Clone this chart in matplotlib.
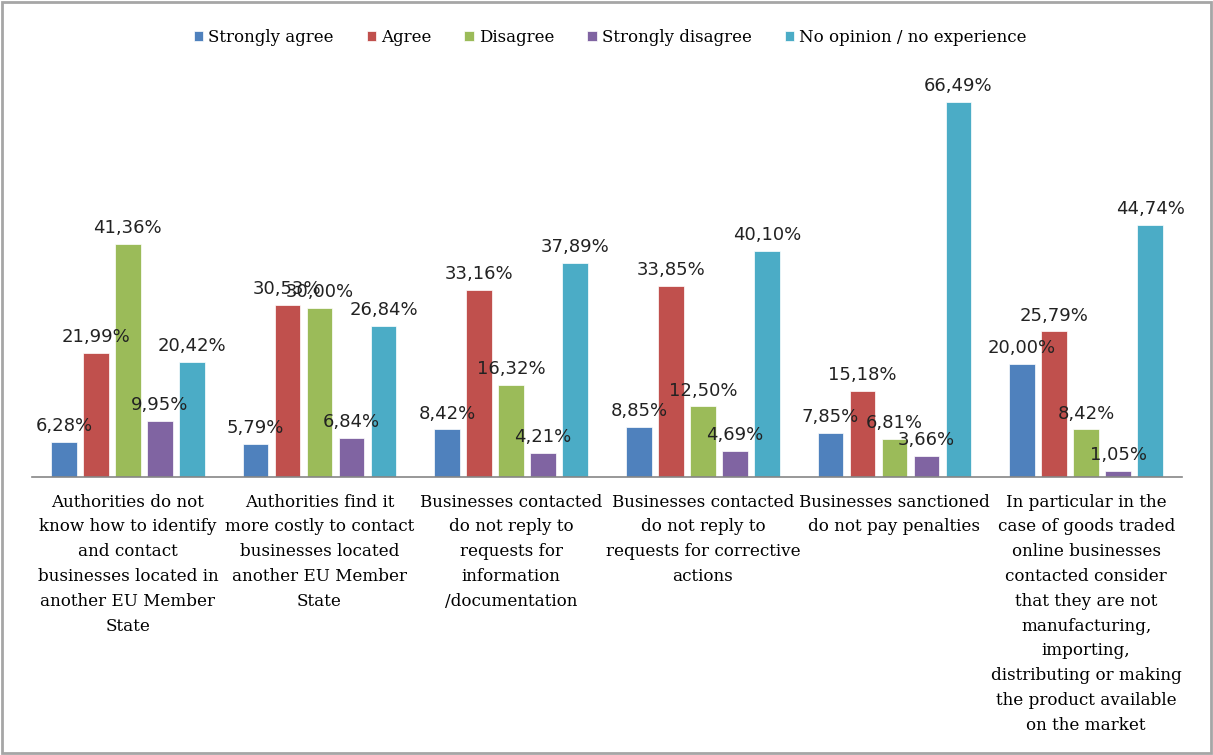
import matplotlib
matplotlib.use("Agg")
import matplotlib.pyplot as plt
import numpy as np
from matplotlib.patches import Rectangle

categories = [
    "Authorities do not\nknow how to identify\nand contact\nbusinesses located in\nanother EU Member\nState",
    "Authorities find it\nmore costly to contact\nbusinesses located\nanother EU Member\nState",
    "Businesses contacted\ndo not reply to\nrequests for\ninformation\n/documentation",
    "Businesses contacted\ndo not reply to\nrequests for corrective\nactions",
    "Businesses sanctioned\ndo not pay penalties",
    "In particular in the\ncase of goods traded\nonline businesses\ncontacted consider\nthat they are not\nmanufacturing,\nimporting,\ndistributing or making\nthe product available\non the market",
]
series_names = ["Strongly agree", "Agree", "Disagree", "Strongly disagree", "No opinion / no experience"]
strongly_agree = [6.28, 5.79, 8.42, 8.85, 7.85, 20.00]
agree = [21.99, 30.53, 33.16, 33.85, 15.18, 25.79]
disagree = [41.36, 30.00, 16.32, 12.50, 6.81, 8.42]
strongly_disagree = [9.95, 6.84, 4.21, 4.69, 3.66, 1.05]
no_opinion = [20.42, 26.84, 37.89, 40.10, 66.49, 44.74]

values = [strongly_agree, agree, disagree, strongly_disagree, no_opinion]
colors = ["#4F81BD", "#C0504D", "#9BBB59", "#8064A2", "#4BACC6"]

fig = plt.figure(figsize=(12.13, 7.55), dpi=100)
fig.patches.append(Rectangle((0.002, 0.002), 0.996, 0.996, transform=fig.transFigure,
                             fill=False, edgecolor="#A6A6A6", linewidth=2))
ax = fig.add_axes([32 / 1213, 1 - 477 / 755, 1150 / 1213, (477 - 82) / 755])

x = np.arange(len(categories))
step = 0.167
width = 0.135
for i, (name, vals, c) in enumerate(zip(series_names, values, colors)):
    pos = x + (i - 2) * step
    ax.bar(pos, vals, width=width, color=c, label=name, edgecolor="white", linewidth=0.5)
    for p, v in zip(pos, vals):
        ax.annotate(f"{v:.2f}%".replace(".", ","), (p, v), xytext=(0, 5),
                    textcoords="offset points", ha="center", va="bottom",
                    fontsize=13, family="DejaVu Sans", color="#222222")

ax.set_xlim(-0.5, len(categories) - 0.5)
ax.set_ylim(0, 70)
ax.set_yticks([])
for s in ["top", "left", "right"]:
    ax.spines[s].set_visible(False)
ax.spines["bottom"].set_color("#868686")
ax.spines["bottom"].set_linewidth(1.2)
ax.set_xticks(x)
ax.set_xticklabels(categories, family="DejaVu Serif", fontsize=12.1, linespacing=1.6)
ax.tick_params(axis="x", length=0, pad=12)

fig.legend(loc="center", bbox_to_anchor=(610 / 1213, 1 - 37 / 755), ncol=5, frameon=False,
           prop={"family": "DejaVu Serif", "size": 12}, handlelength=0.55, handleheight=0.55,
           handletextpad=0.3, columnspacing=2.0)

fig.savefig("out.png", dpi=100)
